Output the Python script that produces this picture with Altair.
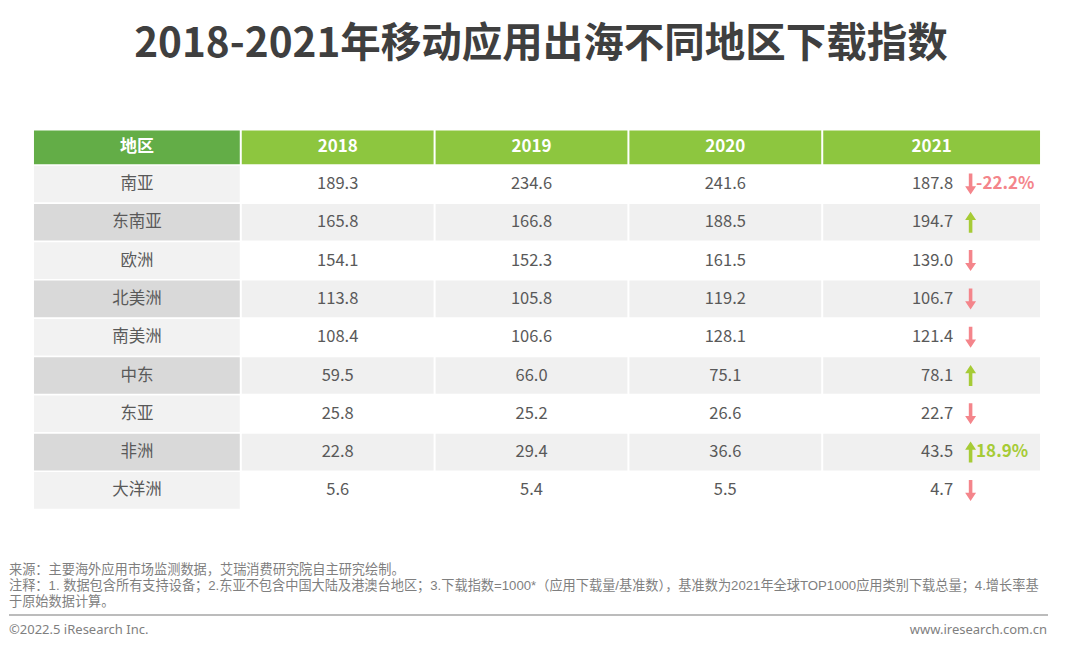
import altair as alt
import pandas as pd

# ---------------- data ----------------
regions = ["南亚", "东南亚", "欧洲", "北美洲", "南美洲", "中东", "东亚", "非洲", "大洋洲"]
years = ["2018", "2019", "2020", "2021"]
v2018 = [189.3, 165.8, 154.1, 113.8, 108.4, 59.5, 25.8, 22.8, 5.6]
v2019 = [234.6, 166.8, 152.3, 105.8, 106.6, 66.0, 25.2, 29.4, 5.4]
v2020 = [241.6, 188.5, 161.5, 119.2, 128.1, 75.1, 26.6, 36.6, 5.5]
v2021 = [187.8, 194.7, 139.0, 106.7, 121.4, 78.1, 22.7, 43.5, 4.7]
growth_regions = ["南亚", "非洲"]
growth_labels = ["-22.2%", "18.9%"]

title_text = "2018-2021年移动应用出海不同地区下载指数"
header_first = "地区"
notes = [
    "来源：主要海外应用市场监测数据，艾瑞消费研究院自主研究绘制。",
    "注释：1. 数据包含所有支持设备；2.东亚不包含中国大陆及港澳台地区；3.下载指数=1000*（应用下载量/基准数），基准数为2021年全球TOP1000应用类别下载总量；4.增长率基",
    "于原始数据计算。",
]
copyright_text = "©2022.5 iResearch Inc."
site_text = "www.iresearch.com.cn"

# ---------------- layout (pixel frame) ----------------
col_edges = [(33, 239), (241, 433), (435, 627), (629, 821), (823, 1040)]
header_top, header_bottom = 130.5, 164.3
row_top0, row_pitch, row_h = 165.7, 38.3, 36.6
val_right_2021 = 953
arrow_x = 970.5
pct_left = 976

GREEN_DARK = "#63ad47"
GREEN = "#8dc63f"
TXT = "#595959"
RED = "#f4858b"
UP = "#a6cb36"

series = [v2018, v2019, v2020, v2021]

cells = []
texts_center = []
for j, (x0, x1) in enumerate(col_edges):
    cells.append(dict(x=x0, x2=x1, y=header_top, y2=header_bottom,
                      fill=GREEN_DARK if j == 0 else GREEN))
header_texts = [dict(x=(x0 + x1) / 2, y=(header_top + header_bottom) / 2,
                     t=(header_first if j == 0 else years[j - 1]))
                for j, (x0, x1) in enumerate(col_edges)]

right_texts = []
arrows = []
pcts = []
for i, r in enumerate(regions):
    top = row_top0 + row_pitch * i
    bot = top + row_h
    cy = (top + bot) / 2
    odd = i % 2 == 1
    for j, (x0, x1) in enumerate(col_edges):
        if j == 0:
            fill = "#d9d9d9" if odd else "#f2f2f2"
        else:
            fill = "#f0f0f0" if odd else "#ffffff"
        cells.append(dict(x=x0, x2=x1, y=top, y2=bot, fill=fill))
    texts_center.append(dict(x=sum(col_edges[0]) / 2, y=cy, t=r))
    for j in range(3):
        texts_center.append(dict(x=sum(col_edges[j + 1]) / 2, y=cy,
                                 t=f"{series[j][i]:.1f}"))
    right_texts.append(dict(x=val_right_2021, y=cy, t=f"{v2021[i]:.1f}"))
    d = "up" if v2021[i] > v2020[i] else "down"
    arrows.append(dict(x=arrow_x, y=cy, d=d))
    if r in growth_regions:
        pcts.append(dict(x=pct_left, y=cy, t=growth_labels[growth_regions.index(r)], d=d))

X = alt.X("x:Q", scale=alt.Scale(domain=[8, 1072], nice=False, zero=False), axis=None)
Y = alt.Y("y:Q", scale=alt.Scale(domain=[8, 642], nice=False, zero=False, reverse=True), axis=None)

cell_layer = alt.Chart(pd.DataFrame(cells)).mark_rect().encode(
    x=X, x2="x2:Q", y=Y, y2="y2:Q", color=alt.Color("fill:N", scale=None)
)

header_layer = alt.Chart(pd.DataFrame(header_texts)).mark_text(
    font="Noto Sans CJK SC", fontSize=17, fontWeight="bold", color="white",
    align="center", baseline="middle"
).encode(x=X, y=Y, text="t:N")

center_layer = alt.Chart(pd.DataFrame(texts_center)).mark_text(
    font="Noto Sans CJK SC", fontSize=16.5, color=TXT, align="center", baseline="middle"
).encode(x=X, y=Y, text="t:N")

right_layer = alt.Chart(pd.DataFrame(right_texts)).mark_text(
    font="Noto Sans CJK SC", fontSize=16.5, color=TXT, align="right", baseline="middle"
).encode(x=X, y=Y, text="t:N")

down_path = "M-0.17,-1 L0.17,-1 L0.17,0.22 L0.52,0.22 L0,1 L-0.52,0.22 L-0.17,0.22 Z"
up_path = "M-0.17,1 L0.17,1 L0.17,-0.22 L0.52,-0.22 L0,-1 L-0.52,-0.22 L-0.17,-0.22 Z"

arrow_layer = alt.Chart(pd.DataFrame(arrows)).mark_point(
    filled=True, size=440, opacity=1, strokeWidth=0
).encode(
    x=X, y=Y,
    shape=alt.Shape("d:N", scale=alt.Scale(domain=["up", "down"], range=[up_path, down_path]), legend=None),
    color=alt.Color("d:N", scale=alt.Scale(domain=["up", "down"], range=[UP, RED]), legend=None),
)

pct_layer = alt.Chart(pd.DataFrame(pcts)).mark_text(
    font="Noto Sans CJK SC", fontSize=17, fontWeight="bold", align="left", baseline="middle"
).encode(
    x=X, y=Y, text="t:N",
    color=alt.Color("d:N", scale=alt.Scale(domain=["up", "down"], range=[UP, RED]), legend=None),
)

base_text = pd.DataFrame([{"k": 0}])

title_layer = alt.Chart(base_text).mark_text(
    text=title_text, font="Noto Sans CJK SC", fontSize=40.5, fontWeight="bold",
    color="#3f3f3f", align="center", baseline="alphabetic"
).encode(x=alt.value(532), y=alt.value(49))

note_layers = []
for k, line in enumerate(notes):
    note_layers.append(alt.Chart(base_text).mark_text(
        text=line, font="Liberation Sans, Noto Sans CJK SC", fontSize=13.2, color="#7f7f7f",
        align="left", baseline="middle"
    ).encode(x=alt.value(0), y=alt.value(562 + 16 * k)))

rule_layer = alt.Chart(base_text).mark_rule(color="#a6a6a6", strokeWidth=1.5).encode(
    x=alt.value(0), x2=alt.value(1039), y=alt.value(607)
)

copy_layer = alt.Chart(base_text).mark_text(
    text=copyright_text, font="Noto Sans", fontSize=13, color="#7f7f7f",
    align="left", baseline="middle"
).encode(x=alt.value(0), y=alt.value(622))

site_layer = alt.Chart(base_text).mark_text(
    text=site_text, font="Noto Sans", fontSize=13, color="#7f7f7f",
    align="right", baseline="middle"
).encode(x=alt.value(1038), y=alt.value(622))

chart = alt.layer(
    cell_layer, header_layer, center_layer, right_layer, arrow_layer, pct_layer,
    title_layer, *note_layers, rule_layer, copy_layer, site_layer
).properties(
    width=1064, height=634,
    autosize=alt.AutoSizeParams(type="fit", contains="padding"),
    padding=0,
).configure(background="white").configure_view(stroke=None)

chart.save("out.html", embed_options={"renderer": "svg", "actions": False})
